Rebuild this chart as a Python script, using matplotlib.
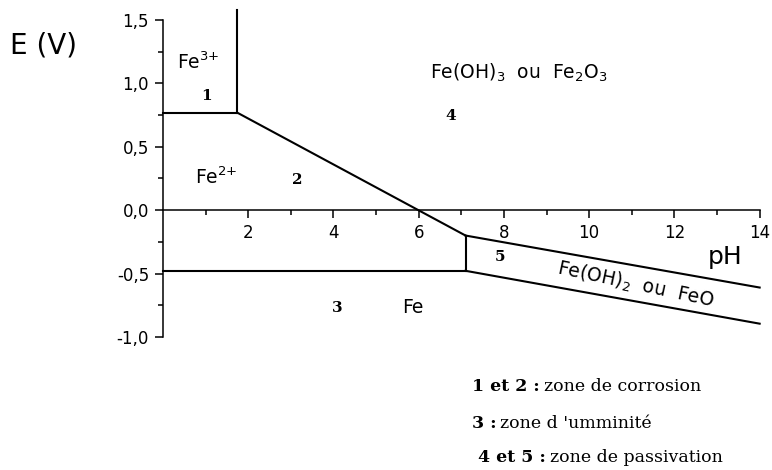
import matplotlib
matplotlib.use("Agg")
import matplotlib.pyplot as plt
from matplotlib.ticker import MultipleLocator, FixedLocator, FuncFormatter

# Pourbaix boundaries for iron (pH, E in V)
ph_fe3_fe2 = [0.0, 1.74]
e_fe3_fe2 = [0.77, 0.77]
ph_fe3_oxide = [1.74, 1.74]
e_fe3_oxide = [0.77, 1.58]
ph_fe2_oxide = [1.74, 7.1]
e_fe2_oxide = [0.77, -0.20]
ph_fe_fe2 = [0.0, 7.1]
e_fe_fe2 = [-0.478, -0.478]
ph_fe2_feo = [7.1, 7.1]
e_fe2_feo = [-0.20, -0.478]
ph_feo_top = [7.1, 14.0]
e_feo_top = [-0.20, -0.61]
ph_feo_bottom = [7.1, 14.0]
e_feo_bottom = [-0.478, -0.895]

x_major = [2, 4, 6, 8, 10, 12, 14]
x_minor = [1, 3, 5, 7, 9, 11, 13]

sans = "DejaVu Sans"
serif = "DejaVu Serif"
plt.rcParams["font.family"] = sans
plt.rcParams["mathtext.fontset"] = "dejavusans"

fig = plt.figure(figsize=(7.72, 4.70), dpi=100)
ax = fig.add_axes([0.211, 0.283, 0.773, 0.7015])
ax.set_xlim(0, 14)
ax.set_ylim(-1.0, 1.6)

for s in ("top", "right"):
    ax.spines[s].set_visible(False)
ax.spines["bottom"].set_position(("data", 0))
ax.spines["bottom"].set_bounds(0, 14)
ax.spines["left"].set_bounds(-1.0, 1.5)
for s in ("left", "bottom"):
    ax.spines[s].set_linewidth(1.1)

ax.xaxis.set_major_locator(FixedLocator(x_major))
ax.xaxis.set_minor_locator(FixedLocator(x_minor))
ax.yaxis.set_major_locator(MultipleLocator(0.5))
ax.yaxis.set_minor_locator(MultipleLocator(0.25))
ax.yaxis.set_major_formatter(FuncFormatter(lambda v, p: ("%.1f" % v).replace(".", ",")))
ax.tick_params(which="major", length=6, width=1.1, labelsize=12, pad=4)
ax.tick_params(which="minor", length=3.5, width=1.1)

lw = 1.5
for xs, ys in [(ph_fe3_fe2, e_fe3_fe2), (ph_fe3_oxide, e_fe3_oxide),
               (ph_fe2_oxide, e_fe2_oxide), (ph_fe_fe2, e_fe_fe2),
               (ph_fe2_feo, e_fe2_feo), (ph_feo_top, e_feo_top),
               (ph_feo_bottom, e_feo_bottom)]:
    ax.plot(xs, ys, color="black", lw=lw, clip_on=False)

# species names ({+} keeps mathtext from spacing the charge as an operator)
fs = 13.5
ax.text(0.33, 1.17, "Fe$^{3{+}}$", fontsize=fs, ha="left", va="center")
ax.text(0.75, 0.26, "Fe$^{2{+}}$", fontsize=fs, ha="left", va="center")
ax.text(6.27, 1.08, "Fe(OH)$_3$  ou  Fe$_2$O$_3$", fontsize=fs, ha="left", va="center")
ax.text(11.08, -0.585, "Fe(OH)$_2$  ou  FeO", fontsize=fs, ha="center", va="center",
        rotation=-12)
ax.text(5.61, -0.77, "Fe", fontsize=fs, ha="left", va="center")

# zone numbers
for x, y, n in [(1.03, 0.90, "1"), (3.15, 0.24, "2"), (4.1, -0.77, "3"),
                (6.75, 0.74, "4"), (7.9, -0.37, "5")]:
    ax.text(x, y, n, fontsize=11, fontweight="bold", family=serif,
            ha="center", va="center")

fig.text(0.013, 0.904, "E (V)", fontsize=20, va="center", ha="left")
ax.text(13.6, -0.37, "pH", fontsize=18, ha="right", va="center")

# key
key = [(0.611, 0.168, "1 et 2 :", "zone de corrosion"),
       (0.611, 0.089, "3 :", "zone d 'umminité"),
       (0.619, 0.016, "4 et 5 :", "zone de passivation")]
for x, y, bold, plain in key:
    t = fig.text(x, y, bold, fontsize=12.5, fontweight="bold", family=serif,
                 va="baseline", ha="left")
    ax.annotate(plain, xy=(1, y), xycoords=(t, "figure fraction"),
                xytext=(3, 0), textcoords="offset points",
                fontsize=12.5, family=serif, va="baseline", ha="left",
                annotation_clip=False)

fig.savefig("out.png", dpi=100, facecolor="white")
